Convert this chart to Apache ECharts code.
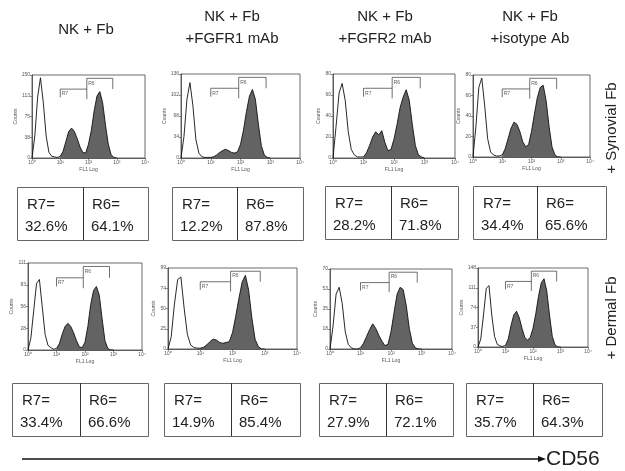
<!DOCTYPE html>
<html><head><meta charset="utf-8">
<script src="https://cdn.jsdelivr.net/npm/echarts/dist/echarts.min.js"></script>
<style>html,body{margin:0;padding:0;background:#fff}#c{width:625px;height:471px}</style>
</head><body><div id="c"></div>
<script>
// ---- data ----
const logX = [0,0.1,0.2,0.3,0.4,0.5,0.6,0.7,0.8,0.9,1.0,1.1,1.2,1.3,1.4,1.5,1.6,1.7,1.8,1.9,2.0,2.1,2.2,2.3,2.4,2.5,2.6,2.7,2.8,2.9,3.0];
const synNK    = [0,40,110,145,100,40,10,3,2,1,3,12,30,48,54,48,35,20,10,9,25,50,85,112,120,100,60,25,6,1,0];
const synFGFR1 = [0,35,95,122,85,30,8,2,1,1,1,2,5,9,12,14,12,9,8,10,22,45,75,100,111,95,55,20,5,1,0];
const synFGFR2 = [0,30,62,71,55,25,8,3,1,1,1,5,12,20,25,22,26,15,7,8,18,32,48,58,65,55,32,12,3,1,0];
const synIso   = [0,30,68,77,50,18,5,2,1,1,2,8,18,28,34,32,25,15,10,12,25,42,58,68,70,55,30,10,2,0,0];
const derNK    = [0,15,50,85,90,55,20,6,3,1,2,8,20,30,34,30,22,12,4,3,10,30,58,76,81,70,40,12,2,0,0];
const derFGFR1 = [0,15,55,85,88,50,18,5,2,1,1,2,5,9,12,11,8,7,8,9,20,40,62,82,90,72,38,12,3,0,0];
const derFGFR2 = [0,20,48,54,40,15,4,1,0,0,1,5,11,17,22,18,12,7,3,4,15,32,48,54,52,38,18,5,1,0,0];
const derIso   = [0,15,60,110,115,60,20,5,2,1,3,15,40,60,67,55,35,18,13,18,35,62,95,120,128,105,60,20,4,0,0];
const panelMax = [150,136,80,80,111,99,70,148];
const headers = ['NK + Fb','NK + Fb\n+FGFR1 mAb','NK + Fb\n+FGFR2 mAb','NK + Fb\n+isotype Ab'];
const r7Values = ['32.6%','12.2%','28.2%','34.4%','33.4%','14.9%','27.9%','35.7%'];
const r6Values = ['64.1%','87.8%','71.8%','65.6%','66.6%','85.4%','72.1%','64.3%'];
const gateR7 = [1.0, 1.94];
const gateR6 = [1.94, 2.86];
const rowLabels = ['+ Synovial Fb','+ Dermal Fb'];
const axisTitle = 'CD56';

const panels = [synNK,synFGFR1,synFGFR2,synIso,derNK,derFGFR1,derFGFR2,derIso];

// ---- layout ----
const grids = [
  [32,75,113,83],[181,74,119,84],[333,74,122,84],[473,75,117,82],
  [28,263,114,87],[168,268,129,81],[330,269,122,80],[478,268,110,79]
];
const boxes = [
  [17,187,131,83],[172,187,131,237],[325,186,133,391],[473,186,133,537],
  [12,383,136,80],[164,383,136,231],[319,383,134,386],[466,383,136,533]
];
const boxH = 53;
const headerX = [86,232,385,530];
const sup = ['\u2070','\u00b9','\u00b2','\u00b3','\u2074'];

const font = '"Liberation Sans", Arial, sans-serif';
const option = {animation:false, backgroundColor:'#fff', grid:[], xAxis:[], yAxis:[], series:[], graphic:[]};

panels.forEach((c,i)=>{
  const g = grids[i], m = panelMax[i];
  option.grid.push({left:g[0], top:g[1], width:g[2], height:g[3], show:true, borderColor:'#444', borderWidth:0.8, containLabel:false});
  option.xAxis.push({gridIndex:i, type:'value', min:0, max:4, interval:1,
    axisLine:{lineStyle:{color:'#444',width:0.8}}, axisTick:{length:2,lineStyle:{color:'#444',width:0.6}},
    splitLine:{show:false},
    axisLabel:{fontSize:5, color:'#555', margin:2, fontFamily:font, formatter:v=>'10'+sup[Math.round(v)]},
    name:'FL1 Log', nameLocation:'middle', nameGap:9, nameTextStyle:{fontSize:5,color:'#555',fontFamily:font}});
  option.yAxis.push({gridIndex:i, type:'value', min:0, max:m, interval:m/4,
    axisLine:{show:true,lineStyle:{color:'#444',width:0.8}}, axisTick:{show:true,length:2,lineStyle:{color:'#444',width:0.6}},
    splitLine:{show:false},
    axisLabel:{fontSize:5, color:'#555', margin:2, fontFamily:font, formatter:v=>String(Math.round(v))},
    name:'Counts', nameLocation:'middle', nameGap:11, nameRotate:90, nameTextStyle:{fontSize:5,color:'#555',fontFamily:font}});
  const pts = logX.map((x,j)=>[x,c[j]]);
  option.series.push({type:'line', xAxisIndex:i, yAxisIndex:i, data:pts.filter(p=>p[0]>=gateR7[0]-1e-9),
    symbol:'none', lineStyle:{width:0}, areaStyle:{color:'#636363',opacity:1}, z:2, silent:true});
  option.series.push({type:'line', xAxisIndex:i, yAxisIndex:i, data:pts,
    symbol:'none', lineStyle:{color:'#111',width:0.9}, z:3, silent:true});
  option.series.push({type:'lines', coordinateSystem:'cartesian2d', xAxisIndex:i, yAxisIndex:i, polyline:true,
    lineStyle:{color:'#333',width:0.7,opacity:1}, z:4, silent:true,
    data:[
      {coords:[[gateR7[0],0.73*m],[gateR7[0],0.83*m],[gateR7[1],0.83*m]]},
      {coords:[[gateR6[0],0.71*m],[gateR6[0],0.96*m],[gateR6[1],0.96*m],[gateR6[1],0.83*m]]}
    ]});
  option.series.push({type:'scatter', xAxisIndex:i, yAxisIndex:i, symbolSize:0, z:5, silent:true,
    label:{show:true, position:'inside', fontSize:5, color:'#333', fontFamily:font, formatter:p=>p.name, align:'left'},
    data:[{name:'R7', value:[gateR7[0]+0.05,0.77*m]},{name:'R6', value:[gateR6[0]+0.05,0.90*m]}]});

  // box annotations
  const b = boxes[i];
  option.graphic.push({type:'rect', shape:{x:b[0]+0.5,y:b[1]+0.5,width:b[2],height:boxH}, style:{fill:'none',stroke:'#666',lineWidth:1}});
  option.graphic.push({type:'line', shape:{x1:b[3]+0.5,y1:b[1],x2:b[3]+0.5,y2:b[1]+boxH}, style:{stroke:'#333',lineWidth:1}});
  const ts = {fontSize:15, fill:'#222', fontFamily:font, verticalAlign:'middle'};
  option.graphic.push({type:'text', x:b[0]+10, y:b[1]+18, style:Object.assign({text:'R7='},ts)});
  option.graphic.push({type:'text', x:b[0]+8, y:b[1]+40, style:Object.assign({text:r7Values[i]},ts)});
  option.graphic.push({type:'text', x:b[3]+9, y:b[1]+18, style:Object.assign({text:'R6='},ts)});
  option.graphic.push({type:'text', x:b[3]+8, y:b[1]+40, style:Object.assign({text:r6Values[i]},ts)});
});

headers.forEach((h,k)=>{
  option.graphic.push({type:'text', x:headerX[k], y:h.indexOf('\n')>=0?28:30,
    style:{text:h, fontSize:15, fill:'#222', fontFamily:font, align:'center', verticalAlign:'middle', lineHeight:22}});
});
option.graphic.push({type:'text', x:612, y:128, rotation:Math.PI/2,
  style:{text:rowLabels[0], fontSize:15, fill:'#222', fontFamily:font, align:'center', verticalAlign:'middle'}});
option.graphic.push({type:'text', x:612, y:318, rotation:Math.PI/2,
  style:{text:rowLabels[1], fontSize:15, fill:'#222', fontFamily:font, align:'center', verticalAlign:'middle'}});
option.graphic.push({type:'line', shape:{x1:22,y1:459,x2:540,y2:459}, style:{stroke:'#111',lineWidth:1.5}});
option.graphic.push({type:'polygon', shape:{points:[[538,456],[546,459],[538,462]]}, style:{fill:'#111'}});
option.graphic.push({type:'text', x:546, y:459, style:{text:axisTitle, fontSize:21, fill:'#222', fontFamily:font, verticalAlign:'middle'}});

const chart = echarts.init(document.getElementById('c'), null, {renderer:'canvas'});
chart.setOption(option);
</script></body></html>
